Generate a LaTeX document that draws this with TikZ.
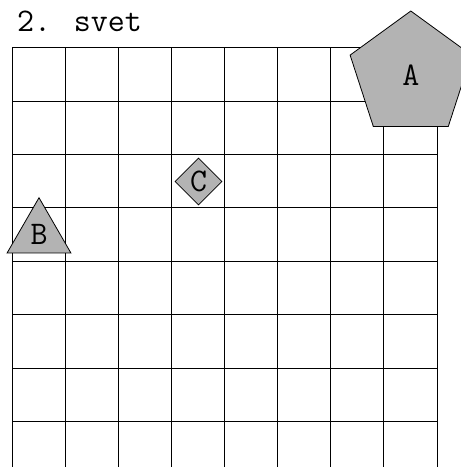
\documentclass[tikz,border=0pt]{standalone}
\usetikzlibrary{shapes.geometric}
\definecolor{shapefill}{HTML}{b3b3b3}

\begin{document}
\begin{tikzpicture}[x=1pt, y=-1pt,
  gridline/.style={draw=black, line width=0.8pt},
  piece/.style={draw=black, line width=0.8pt, fill=shapefill, inner sep=0pt,
                font=\ttfamily\fontsize{33}{35}\selectfont}]
\useasboundingbox (0,0) rectangle (461,467);
\clip (0,0) rectangle (461,467);
% grid of 8 columns, rows run past the bottom edge
\foreach \i in {0,...,8}
  \draw[gridline] (12+\i*53.125, 47.7) -- (12+\i*53.125, 476);
\foreach \j in {0,...,7}
  \draw[gridline] (12, 47.7+\j*53.375) -- (437, 47.7+\j*53.375);
% title
\node[anchor=base west, inner sep=0pt, font=\ttfamily\fontsize{33}{35}\selectfont]
  (title) at (17,31.7) {2. svet};
% pieces
\node[piece, regular polygon, regular polygon sides=5, minimum size=127.6pt]
  (A) at (410.8,74.8) {A};
\node[piece, regular polygon, regular polygon sides=3, minimum size=73.6pt]
  (B) at (39,234.5) {B};
\node[piece, diamond, minimum width=47pt, minimum height=47pt]
  (C) at (198.5,181.5) {C};
\end{tikzpicture}
\end{document}
